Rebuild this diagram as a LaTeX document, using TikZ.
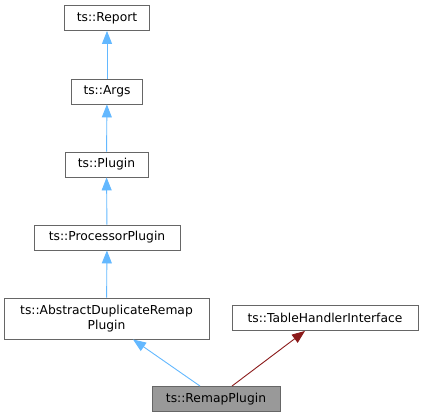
\documentclass[tikz,border=0pt]{standalone}
\usepackage{fontspec}
\setmainfont{DejaVu Sans}
\usetikzlibrary{arrows.meta}

\definecolor{boxline}{HTML}{666666}
\definecolor{curfill}{HTML}{999999}
\definecolor{pubedge}{HTML}{63B8FF}
\definecolor{protedge}{HTML}{8B1A1A}

\tikzset{
  classbox/.style={draw=boxline, fill=white, line width=0.9pt, inner sep=0pt,
    minimum height=25pt, font=\fontsize{12.3}{14.5}\selectfont, align=center},
  current/.style={classbox, fill=curfill},
  inherit/.style={draw=pubedge, line width=0.9pt, -{Triangle[length=13pt,width=10pt]}},
  uses/.style={draw=protedge, line width=0.9pt, -{Triangle[length=13pt,width=10pt]}}
}

\begin{document}
\begin{tikzpicture}[x=1pt,y=-1pt]
\useasboundingbox (0,0) rectangle (424,417);
\node[classbox, minimum width=85pt] (report) at (107,18) {ts::Report};
\node[classbox, minimum width=71pt] (args) at (107,91.5) {ts::Args};
\node[classbox, minimum width=83pt] (plugin) at (106.5,164.5) {ts::Plugin};
\node[classbox, minimum width=146pt] (processor) at (107,237.5) {ts::ProcessorPlugin};
\node[classbox, minimum width=205pt, minimum height=41pt] (abstract) at (106.5,318.5)
  {ts::AbstractDuplicateRemap\\Plugin};
\node[classbox, minimum width=186pt] (tablehandler) at (325,318) {ts::TableHandlerInterface};
\node[current, minimum width=128pt] (remap) at (216,399) {ts::RemapPlugin};

\draw[inherit] (args) -- (report);
\draw[inherit] (plugin) -- (args);
\draw[inherit] (processor) -- (plugin);
\draw[inherit] (abstract) -- (processor);
\draw[inherit] (remap.north -| 200,0) -- (abstract.south -| 133,0);
\draw[uses] (remap.north -| 232,0) -- (tablehandler.south -| 305,0);
\end{tikzpicture}
\end{document}
